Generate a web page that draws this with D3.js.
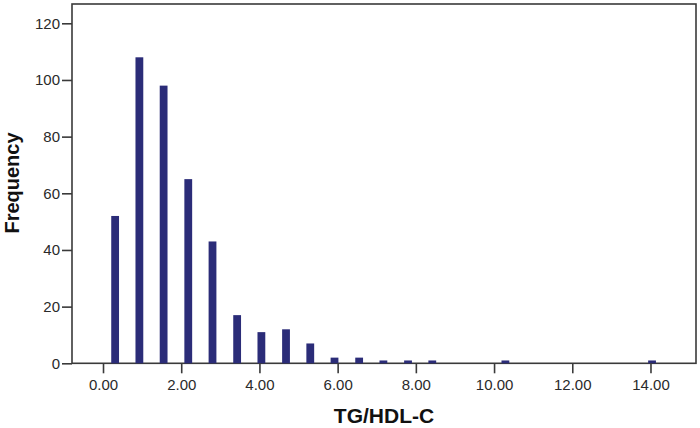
<!DOCTYPE html>
<html>
<head>
<meta charset="utf-8">
<script src="https://cdn.jsdelivr.net/npm/d3@7"></script>
<style>
  body { margin: 0; background: #fff; }
  svg { display: block; font-family: "Liberation Sans", Arial, sans-serif; }
</style>
</head>
<body>
<svg width="700" height="428"></svg>
<script>
// bin centres (TG/HDL-C) and their counts
const binCenters = [0.31, 0.93, 1.55, 2.18, 2.80, 3.43, 4.05, 4.68, 5.30, 5.92, 6.55, 7.17, 7.80, 8.42, 10.29, 14.04];
const counts     = [52, 108, 98, 65, 43, 17, 11, 12, 7, 2, 2, 1, 1, 1, 1, 1];
const xTicks = [0, 2, 4, 6, 8, 10, 12, 14];
const yTicks = [0, 20, 40, 60, 80, 100, 120];

const svg = d3.select("svg");

const plotLeft = 72, plotRight = 696, plotTop = 4, plotBottom = 363.3;

const x = d3.scaleLinear()
    .domain([-0.793, 15.164])
    .range([plotLeft, plotRight]);

const y = d3.scaleLinear()
    .domain([0, 120])
    .range([plotBottom, 23.3]);

const axisColor = "#3a3a3a";

// frame
svg.append("rect")
    .attr("x", plotLeft)
    .attr("y", plotTop)
    .attr("width", plotRight - plotLeft)
    .attr("height", plotBottom - plotTop)
    .attr("fill", "none")
    .attr("stroke", axisColor)
    .attr("stroke-width", 1.6);

// bars
const barW = 7.8;
svg.append("g")
    .attr("fill", "#2b2c78")
    .selectAll("rect")
    .data(binCenters)
    .join("rect")
    .attr("x", d => x(d) - barW / 2)
    .attr("y", (d, i) => y(counts[i]))
    .attr("width", barW)
    .attr("height", (d, i) => y(0) - y(counts[i]));

// y axis
const yAxis = svg.append("g")
    .attr("transform", `translate(${plotLeft},0)`)
    .call(d3.axisLeft(y).tickValues(yTicks).tickSize(10).tickPadding(2).tickFormat(d3.format("d")));
yAxis.select(".domain").remove();
yAxis.selectAll(".tick line").attr("stroke", axisColor).attr("stroke-width", 1.6);
yAxis.selectAll(".tick text")
    .attr("fill", "#2a2a2a")
    .attr("font-size", 15)
    .attr("font-family", "Liberation Sans, Arial, sans-serif");

// x axis
const xAxis = svg.append("g")
    .attr("transform", `translate(0,${plotBottom})`)
    .call(d3.axisBottom(x).tickValues(xTicks).tickSize(10).tickPadding(6).tickFormat(d3.format(".2f")));
xAxis.select(".domain").remove();
xAxis.selectAll(".tick line").attr("stroke", axisColor).attr("stroke-width", 1.6);
xAxis.selectAll(".tick text")
    .attr("fill", "#2a2a2a")
    .attr("font-size", 15)
    .attr("font-family", "Liberation Sans, Arial, sans-serif");

// axis titles
svg.append("text")
    .attr("x", 384)
    .attr("y", 423)
    .attr("text-anchor", "middle")
    .attr("font-weight", "bold")
    .attr("font-size", 21)
    .attr("fill", "#111")
    .text("TG/HDL-C");

svg.append("text")
    .attr("transform", "translate(18.5,183) rotate(-90)")
    .attr("text-anchor", "middle")
    .attr("font-weight", "bold")
    .attr("font-size", 20)
    .attr("fill", "#111")
    .text("Frequency");
</script>
</body>
</html>
